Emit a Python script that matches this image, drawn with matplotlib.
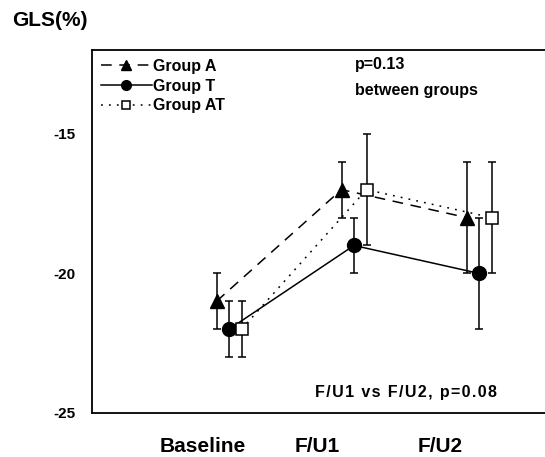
import matplotlib; matplotlib.use("Agg")
import matplotlib.pyplot as plt
import numpy as np

plt.rcParams["font.family"] = ["Liberation Sans", "DejaVu Sans"]
plt.rcParams["font.weight"] = "bold"

# values
categories = ["Baseline", "F/U1", "F/U2"]
group_a = [-21, -17, -18]; group_a_sd = [1, 1, 2]
group_t = [-22, -19, -20]; group_t_sd = [1, 1, 2]
group_at = [-22, -17, -18]; group_at_sd = [1, 2, 2]

x = np.arange(len(categories))
fig = plt.figure(figsize=(5.45, 4.57), dpi=100)
ax = fig.add_axes([92 / 545, 1 - 413 / 457, 1 - 92 / 545, (413 - 50) / 457])

kw = dict(color="k", ecolor="k", elinewidth=1.1, capsize=3, capthick=1.1, lw=1.1)
ea = ax.errorbar(x - 0.1, group_a, yerr=group_a_sd, ls=(0, (7, 5)), marker="^", ms=9.5, **kw)
et = ax.errorbar(x, group_t, yerr=group_t_sd, ls="-", marker="o", ms=10, **kw)
eat = ax.errorbar(x + 0.1, group_at, yerr=group_at_sd, ls=(0, (1.2, 4)), marker="s", ms=8.5,
                  mfc="white", mec="k", mew=1.1, **kw)

ax.set_xlim(-1.096, 2.528); ax.set_ylim(-25, -12)
ax.set_yticks([-25, -20, -15])
ax.set_yticklabels(["-25", "-20", "-15"], fontsize=11, fontweight="bold")
ax.tick_params(axis="y", length=0, pad=12)
ax.set_xticks([-0.21, 0.71, 1.69])
ax.set_xticklabels(categories, fontsize=15, fontweight="bold")
ax.tick_params(axis="x", length=0, pad=17)
ax.spines["right"].set_visible(False)
for s in ("left", "top", "bottom"):
    ax.spines[s].set_linewidth(1.3)

ax.legend([ea.lines[0], et.lines[0], eat.lines[0]], ["Group A", "Group T", "Group AT"],
          loc="upper left", bbox_to_anchor=(0.0, 1.0), frameon=False, fontsize=11.5,
          handlelength=3.2, handletextpad=0.1, labelspacing=0.3, borderaxespad=0.15,
          markerscale=0.7)

fig.text(355 / 545, 1 - 65 / 457, "p=0.13", fontsize=11.5, fontweight="bold", va="center")
fig.text(355 / 545, 1 - 90 / 457, "between groups", fontsize=11.5, fontweight="bold", va="center")
spaced = "\u200a".join("F/U1 vs F/U2, p=0.08")
fig.text(315 / 545, 1 - 392 / 457, spaced, fontsize=11.5, fontweight="bold", va="center")
fig.text(12 / 545, 1 - 21 / 457, "GLS(%)", fontsize=15, fontweight="bold", va="center")

fig.savefig("out.png", dpi=100)
